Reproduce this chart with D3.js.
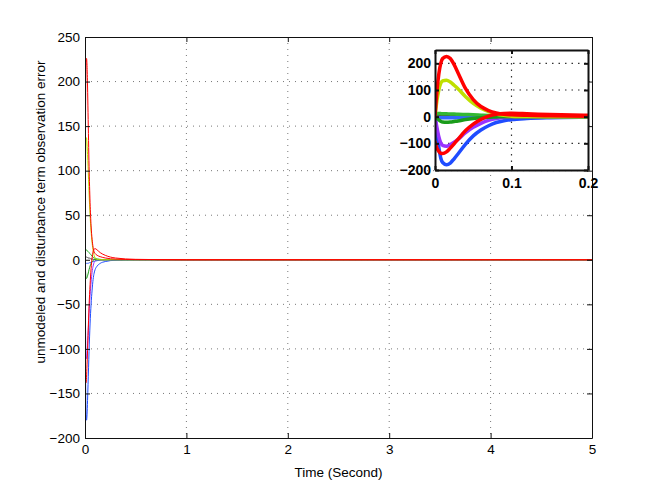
<!DOCTYPE html>
<html>
<head>
<meta charset="utf-8">
<script src="https://cdn.jsdelivr.net/npm/d3@7"></script>
<style>
  body { margin: 0; background: #fff; }
  svg { display: block; font-family: "Liberation Sans", Arial, sans-serif; }
</style>
</head>
<body>
<svg id="chart" width="654" height="493"></svg>
<script>

// Sample times (seconds) shared by every series
const times = [0, 0.0025, 0.005, 0.0075, 0.01, 0.015, 0.02, 0.025, 0.03, 0.04, 0.05, 0.06, 0.07, 0.08, 0.09, 0.1, 0.12, 0.15, 0.2, 0.3, 0.5, 1, 2, 3, 4, 5];

// Observation error of each channel
const grayErr   = [3, 3, 3, 3, 3, 3, 2.5, 2.5, 2, 2, 1.5, 1, 1, 0.5, 0.5, 0, 0, 0, 0, 0, 0, 0, 0, 0, 0, 0];
const blueFlat  = [-4, -4, -4, -4, -4, -4, -4, -4, -4, -3.5, -3, -3, -2.5, -2, -2, -1.5, -1, -0.5, 0, 0, 0, 0, 0, 0, 0, 0];
const greenFlat = [12, 12, 12, 11.5, 11, 11, 10, 10, 9, 8, 7, 5.5, 4, 3, 2, 1.5, 1, 0.5, 0, 0, 0, 0, 0, 0, 0, 0];
const blueErr   = [0, -60, -115, -155, -172, -180, -174, -158, -140, -103, -72, -50, -34, -22, -15, -11, -7, -4, -2, -0.5, 0, 0, 0, 0, 0, 0];
const purpleErr = [0, -40, -75, -98, -108, -111, -105, -96, -85, -60, -40, -25, -14, -7, -3, -1, 0, 0, 0, 0, 0, 0, 0, 0, 0, 0];
const greenDip  = [2, -6, -12, -17, -20, -21, -20, -18, -16, -11, -7, -4, -2, -1, 0, 0, 0, 0, 0, 0, 0, 0, 0, 0, 0, 0];
const yellowErr = [0, 60, 100, 125, 134, 137, 130, 118, 105, 75, 50, 32, 19, 10, 5, 2, 0.5, 0, 0, 0, 0, 0, 0, 0, 0, 0];
const redNeg    = [-95, -118, -130, -137, -138, -132, -118, -102, -85, -52, -28, -10, 2, 9, 12, 12.5, 11, 8, 5, 2, 0.5, 0, 0, 0, 0, 0];
const redPeak   = [0, 95, 160, 200, 218, 226, 218, 195, 165, 105, 64, 38, 23, 14, 9, 7, 5, 3.5, 2, 0.8, 0.2, 0, 0, 0, 0, 0];

// Drawing order (last one ends up on top)
const seriesIds = ["gray", "blueFlat", "greenFlat", "blue", "purple", "greenDip", "yellow", "redNeg", "redPeak"];
const seriesValues = [grayErr, blueFlat, greenFlat, blueErr, purpleErr, greenDip, yellowErr, redNeg, redPeak];

// Tick values
const mainXTicks = [0, 1, 2, 3, 4, 5];
const mainYTicks = [-200, -150, -100, -50, 0, 50, 100, 150, 200, 250];
const insetXTicks = [0, 0.1, 0.2];
const insetYTicks = [-200, -100, 0, 100, 200];

const series = seriesIds.map((id, i) => ({
  id: id,
  points: times.map((t, j) => ({ t: t, v: seriesValues[i][j] }))
}));

const colorScale = d3.scaleOrdinal()
  .domain(seriesIds)
  .range(["#4d4d4d", "#3366ff", "#33b833", "#1f4cff", "#9933ff", "#1a9c1a", "#bfdf00", "#ff0000", "#ff0000"]);

const svg = d3.select("#chart");

//Draws one MATLAB style axes box: grid, inward ticks on four sides, curves
const drawAxes = (opts) => {

  const { left, top, width, height, xDomain, yDomain, xTicks, yTicks, fmtX, fmtY } = opts;

  const xScale = d3.scaleLinear().domain(xDomain).range([0, width]);
  const yScale = d3.scaleLinear().domain(yDomain).range([height, 0]);

  const g = svg.append("g")
    .attr("transform", `translate(${left},${top})`);

  g.append("rect")
    .attr("width", width)
    .attr("height", height)
    .attr("fill", "#fff");

  //Dotted grid
  g.append("g")
    .selectAll("line")
    .data(xTicks.filter(d => d !== xDomain[0] && d !== xDomain[1]))
    .join("line")
      .attr("x1", d => xScale(d))
      .attr("x2", d => xScale(d))
      .attr("y1", 0)
      .attr("y2", height)
      .attr("stroke", opts.gridColor)
      .attr("stroke-width", opts.gridWidth)
      .attr("stroke-dasharray", opts.gridDash);

  g.append("g")
    .selectAll("line")
    .data(yTicks.filter(d => d !== yDomain[0] && d !== yDomain[1]))
    .join("line")
      .attr("x1", 0)
      .attr("x2", width)
      .attr("y1", d => yScale(d))
      .attr("y2", d => yScale(d))
      .attr("stroke", opts.gridColor)
      .attr("stroke-width", opts.gridWidth)
      .attr("stroke-dasharray", opts.gridDash);

  //Curves, clipped to the box
  const clipId = `clip-${opts.name}`;
  g.append("clipPath")
    .attr("id", clipId)
    .append("rect")
      .attr("width", width)
      .attr("height", height);

  const lineGenerator = d3.line()
    .x(d => xScale(d.t))
    .y(d => yScale(d.v))
    .curve(d3.curveMonotoneX);

  g.append("g")
    .attr("clip-path", `url(#${clipId})`)
    .selectAll("path")
    .data(series)
    .join("path")
      .attr("d", d => lineGenerator(d.points))
      .attr("fill", "none")
      .attr("stroke", d => colorScale(d.id))
      .attr("stroke-width", opts.lineWidth)
      .attr("stroke-linejoin", "round")
      .attr("stroke-linecap", "round");

  //Axes, ticks pointing inward
  const styleAxis = (a) => a
    .call(s => s.select(".domain").attr("stroke", "#111").attr("stroke-width", opts.axisWidth))
    .call(s => s.selectAll(".tick line").attr("stroke", "#111").attr("stroke-width", opts.axisWidth))
    .call(s => s.selectAll(".tick text")
      .attr("fill", "#000")
      .style("font-size", opts.fontSize)
      .style("font-weight", opts.fontWeight));

  g.append("g")
    .attr("transform", `translate(0,${height})`)
    .call(d3.axisBottom(xScale).tickValues(xTicks).tickFormat(fmtX)
      .tickSizeInner(-opts.tickLen).tickSizeOuter(0).tickPadding(opts.xPad))
    .call(styleAxis);

  g.append("g")
    .call(d3.axisTop(xScale).tickValues(xTicks).tickFormat("")
      .tickSizeInner(-opts.tickLen).tickSizeOuter(0))
    .call(styleAxis);

  g.append("g")
    .call(d3.axisLeft(yScale).tickValues(yTicks).tickFormat(fmtY)
      .tickSizeInner(-opts.tickLen).tickSizeOuter(0).tickPadding(opts.yPad))
    .call(styleAxis);

  g.append("g")
    .attr("transform", `translate(${width},0)`)
    .call(d3.axisRight(yScale).tickValues(yTicks).tickFormat("")
      .tickSizeInner(-opts.tickLen).tickSizeOuter(0))
    .call(styleAxis);

  return g;
};

const minusFmt = d => d < 0 ? `\u2212${Math.abs(d)}` : `${d}`;

// Main axes
drawAxes({
  name: "main",
  left: 85, top: 37, width: 507, height: 401,
  xDomain: [0, 5], yDomain: [-200, 250],
  xTicks: mainXTicks, yTicks: mainYTicks,
  fmtX: d => d, fmtY: minusFmt,
  gridColor: "#555", gridWidth: 0.8, gridDash: "1 5",
  lineWidth: 1, axisWidth: 1, tickLen: 5,
  fontSize: "13.5px", fontWeight: "normal",
  xPad: 6, yPad: 5
});

svg.append("text")
  .attr("x", 338.5)
  .attr("y", 477)
  .attr("text-anchor", "middle")
  .style("font-size", "13.5px")
  .text("Time (Second)");

svg.append("text")
  .attr("transform", "translate(45,212) rotate(-90)")
  .attr("text-anchor", "middle")
  .style("font-size", "13.5px")
  .text("unmodeled and disturbance term observation error");

// Zoomed inset on the first 0.2 s
drawAxes({
  name: "inset",
  left: 435, top: 50, width: 153, height: 120,
  xDomain: [0, 0.2], yDomain: [-200, 250],
  xTicks: insetXTicks, yTicks: insetYTicks,
  fmtX: d => d, fmtY: minusFmt,
  gridColor: "#333", gridWidth: 1.2, gridDash: "1.5 5",
  lineWidth: 3.5, axisWidth: 2, tickLen: 4,
  fontSize: "14px", fontWeight: "bold",
  xPad: 8, yPad: 4
});

</script>
</body>
</html>
